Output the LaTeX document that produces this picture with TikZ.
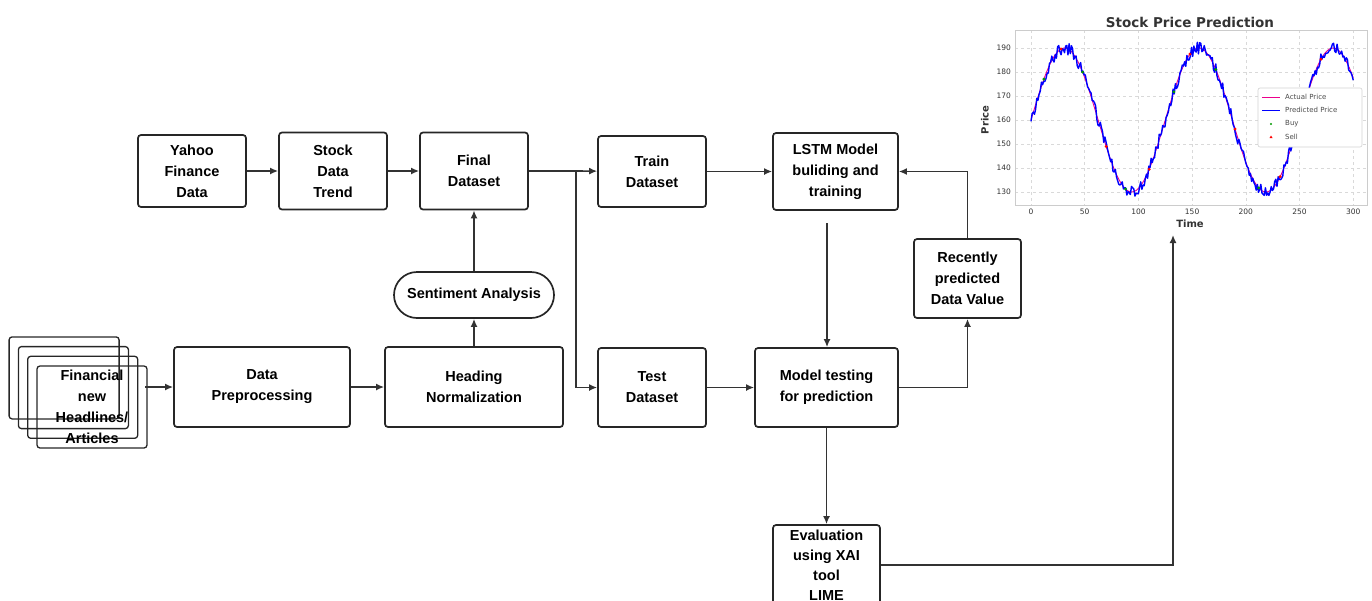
\documentclass[tikz,border=0pt]{standalone}
\usepackage{fontspec}
\setmainfont{Liberation Sans}
\newfontfamily\chartfont{DejaVu Sans}
\usetikzlibrary{arrows.meta,calc}
\tikzset{
  box/.style={draw=black!85, line width=1.7pt, rounded corners=3pt, align=center, inner sep=0pt,
    font=\bfseries\fontsize{14.5}{21}\selectfont, text=black},
  arr/.style={draw=black!80, line width=1.6pt, -{Latex[length=8pt,width=7pt]}},
  ln/.style={draw=black!80, line width=1.6pt},
  backdoc/.style={draw=black!85, line width=1.3pt, rounded corners=3pt},
  grid/.style={draw=gray!30, line width=0.5pt, dashed},
  tick/.style={font=\chartfont\fontsize{7.5}{9}\selectfont, text=black!80, inner sep=1pt},
  legtxt/.style={font=\chartfont\fontsize{7}{8}\selectfont, text=black!70, anchor=west, inner sep=0pt},
}
\begin{document}
\begin{tikzpicture}[x=1pt,y=-1pt]
\useasboundingbox (0,0) rectangle (1372,600);
\clip (0,0) rectangle (1372,600);

% ---------- nodes ----------
\node[box, minimum width=108pt, minimum height=72pt] (yahoo) at (192,171) {Yahoo\\Finance\\Data};
\node[box, minimum width=108pt, minimum height=77pt] (stock) at (333,171) {Stock\\Data\\Trend};
\node[box, minimum width=108pt, minimum height=77pt] (final) at (474,171) {Final\\Dataset};
\node[box, rounded corners=23pt, minimum width=160pt, minimum height=46pt] (sent) at (474,295) {Sentiment Analysis};
\node[box, minimum width=108pt, minimum height=71pt] (train) at (652,171.5) {Train\\Dataset};
\node[box, minimum width=125pt, minimum height=77pt] (lstm) at (835.5,171.5) {LSTM Model\\buliding and\\training};
\node[box, minimum width=107pt, minimum height=79pt] (recent) at (967.5,278.5) {Recently\\predicted\\Data Value};
\node[box, minimum width=108pt, minimum height=79pt] (test) at (652,387.5) {Test\\Dataset};
\node[box, minimum width=143pt, minimum height=79pt] (model) at (826.5,387.5) {Model testing\\for prediction};
\node[box, minimum width=176pt, minimum height=80pt] (prep) at (262,387) {Data\\Preprocessing};
\node[box, minimum width=178pt, minimum height=80pt] (head) at (474,387) {Heading\\Normalization};
\node[box, font=\bfseries\fontsize{14.5}{20}\selectfont, minimum width=107pt, minimum height=80pt] (eval) at (826.5,565) {Evaluation\\using XAI\\tool\\LIME};

% stacked documents
\foreach \k in {3,2,1}{
  \draw[backdoc] ($(92,407)+(-9.3*\k,-9.7*\k)+(-55,-41)$) rectangle ($(92,407)+(-9.3*\k,-9.7*\k)+(55,41)$);
}
\node[box, line width=1.3pt, minimum width=110pt, minimum height=82pt] (news) at (92,407) {Financial\\new\\Headlines/\\Articles};

% ---------- connectors ----------
\coordinate (split) at (576,171);
\coordinate (lstmout) at (827,223);
\coordinate (chartin) at (1173,235);
\coordinate (newsout) at (145,387);

\draw[arr] (yahoo) -- (stock);
\draw[arr] (stock) -- (final);
\draw[arr] (sent) -- (final);
\draw[arr] (head) -- (sent);
\draw[arr] (newsout) -- (prep.west);
\draw[arr] (prep) -- (head);
\draw[ln] (final.east) -- (split);
\draw[arr] (split) -- (train);
\draw[arr] (split) |- (test);
\draw[arr] (train) -- (lstm);
\draw[arr] (test) -- (model);
\draw[arr] (lstmout) -- (lstmout |- model.north);
\draw[arr] (model.east) -| (recent.south);
\draw[arr] (recent.north) |- (lstm.east);
\draw[arr] (model) -- (eval);
\draw[arr] (eval.east) -| (chartin);

% ---------- chart ----------
\node[font=\chartfont\bfseries\fontsize{13.5}{15}\selectfont, text=black!80] (ctitle) at (1190,22) {Stock Price Prediction};
% grid
\foreach \p in {190,180,170,160,150,140,130}{
  \draw[grid] (1015,{48+(190-\p)*2.4}) -- (1367,{48+(190-\p)*2.4});
}
\foreach \t in {0,50,100,150,200,250,300}{
  \draw[grid] ({1031+1.074*\t},30) -- ({1031+1.074*\t},205);
}
\draw[gray!40, line width=0.6pt] (1015,30) rectangle (1367,205);
% tick labels
\foreach \p/\lab in {190/190,180/180,170/170,160/160,150/150,140/140,130/130}{
  \node[tick, anchor=east] at (1012,{48+(190-\p)*2.4}) {\lab};
}
\foreach \t in {0,50,100,150,200,250,300}{
  \node[tick] at ({1031+1.074*\t},212) {\t};
}
\node[font=\chartfont\bfseries\fontsize{10}{12}\selectfont, text=black!80] (xlab) at (1190,224) {Time};
\node[font=\chartfont\bfseries\fontsize{10}{12}\selectfont, text=black!80, rotate=90] (ylab) at (985,120) {Price};
% curves
\draw[magenta, line width=0.9pt] plot[domain=0:300, samples=200, smooth] ({1031+1.074*\x},{120-72*sin(2.88*\x)});
\pgfmathsetseed{7}
\draw[blue, line width=1.4pt, line join=round] plot[domain=0:300, samples=280] ({1031+1.074*\x},{120-72*sin(2.88*\x)+6*rand});
\foreach \t in {12,48,88,133,172,212}{
  \fill[green!60!black] ({1031+1.074*\t},{120-72*sin(2.88*\t)}) circle (1.6pt);
}
\foreach \t in {28,70,110,148,190,232,270}{
  \fill[red] ({1031+1.074*\t},{120-72*sin(2.88*\t)}) circle (1.6pt);
}
% legend
\draw[gray!35, fill=white, rounded corners=2pt, line width=0.6pt] (1258,88) rectangle (1362,147);
\draw[magenta, line width=1pt] (1262,97) -- (1280,97);
\node[legtxt] at (1285,97) {Actual Price};
\draw[blue, line width=1pt] (1262,110) -- (1280,110);
\node[legtxt] at (1285,110) {Predicted Price};
\fill[green!60!black] (1271,124) circle (1.2pt);
\node[legtxt] at (1285,124) {Buy};
\fill[red] (1269.5,138) -- (1272.5,138) -- (1271,135.5) -- cycle;
\node[legtxt] at (1285,137) {Sell};
\end{tikzpicture}
\end{document}
